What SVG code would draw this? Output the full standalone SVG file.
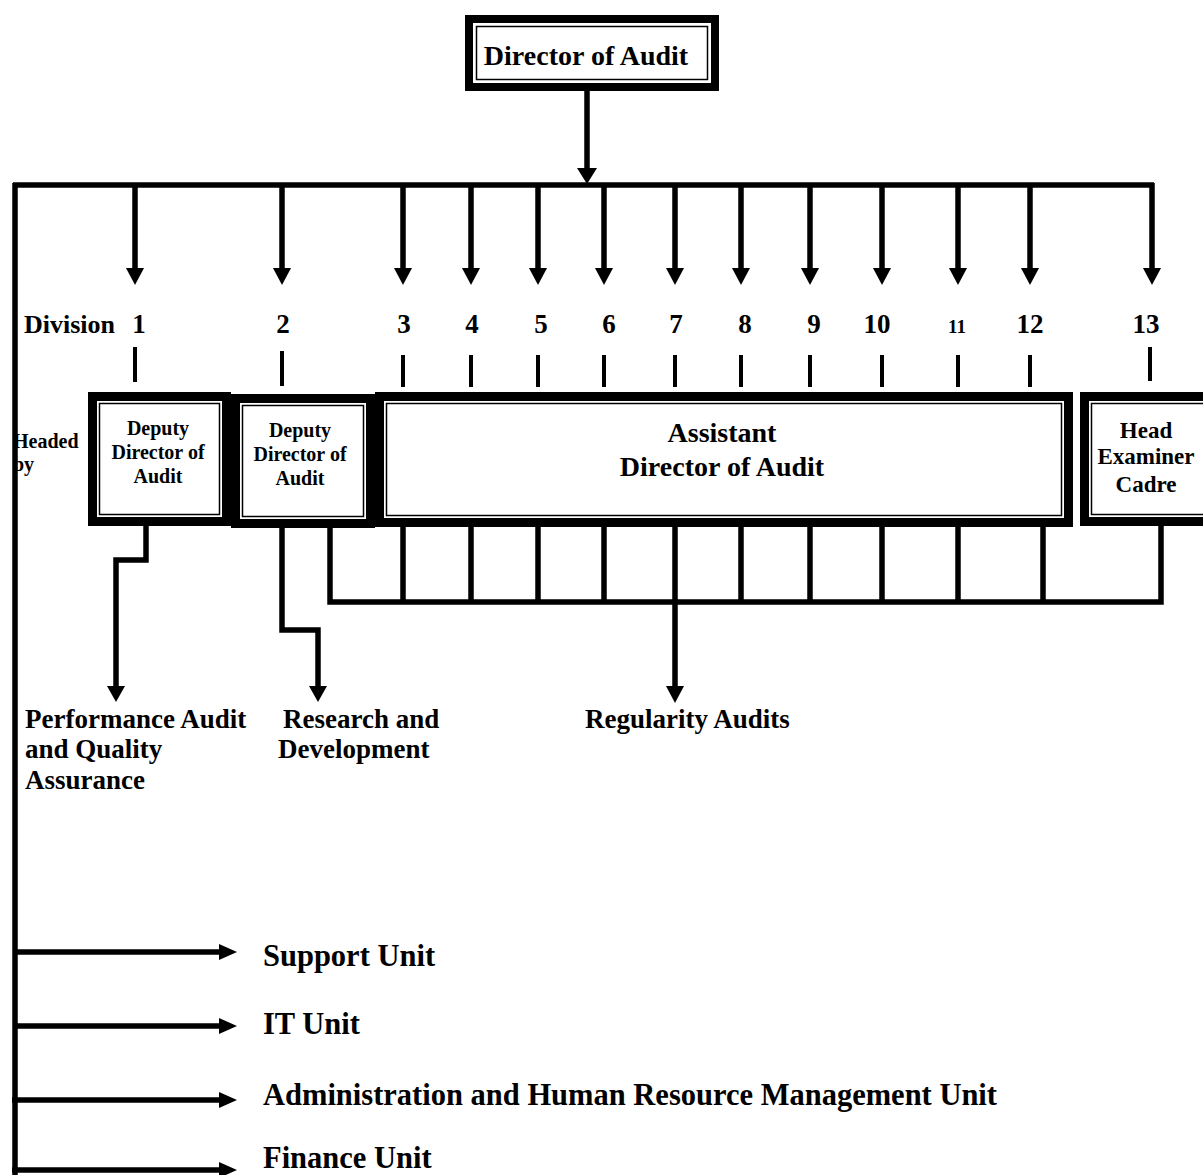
<svg xmlns="http://www.w3.org/2000/svg" width="1203" height="1175" viewBox="0 0 1203 1175">
<style>
text{font-family:"Liberation Serif","Times New Roman",serif;font-weight:bold;fill:#000}
.c{text-anchor:middle}
.ln{stroke:#000;stroke-width:5.5;fill:none;stroke-linecap:butt}
.tk{stroke:#000;stroke-width:4;fill:none}
.outer{fill:#000}
.inner{fill:#fff}
.thin{fill:none;stroke:#000;stroke-width:1.5}
.ah{fill:#000}
</style>
<rect width="1203" height="1175" fill="#fff"/>

<g id="director">
<rect class="outer" x="465" y="15" width="254" height="76"/>
<rect class="inner" x="473" y="23" width="238" height="60"/>
<rect class="thin" x="476.5" y="26.5" width="231" height="53"/>
<text class="c" x="586" y="65" font-size="28">Director of Audit</text>
</g>

<g id="labels">
<text x="24" y="333" font-size="26">Division</text>
<text class="c" x="139" y="333" font-size="27">1</text>
<text class="c" x="283" y="333" font-size="27">2</text>
<text class="c" x="404" y="333" font-size="27">3</text>
<text class="c" x="472" y="333" font-size="27">4</text>
<text class="c" x="541" y="333" font-size="27">5</text>
<text class="c" x="609" y="333" font-size="27">6</text>
<text class="c" x="676" y="333" font-size="27">7</text>
<text class="c" x="745" y="333" font-size="27">8</text>
<text class="c" x="814" y="333" font-size="27">9</text>
<text class="c" x="877" y="333" font-size="27">10</text>
<text class="c" x="957" y="333" font-size="19">11</text>
<text class="c" x="1030" y="333" font-size="27">12</text>
<text class="c" x="1146" y="333" font-size="27">13</text>
<text x="13" y="448" font-size="20">Headed</text>
<text x="13" y="471" font-size="20">by</text>
</g>

<g id="deputy1">
<rect class="outer" x="88" y="392" width="143" height="134"/>
<rect class="inner" x="97" y="401" width="125" height="116"/>
<rect class="thin" x="99.5" y="403.5" width="120" height="111"/>
<text class="c" x="158" y="435" font-size="20">Deputy</text>
<text class="c" x="158" y="459" font-size="20">Director of</text>
<text class="c" x="158" y="483" font-size="20">Audit</text>
</g>

<g id="deputy2">
<rect class="outer" x="231" y="394" width="144" height="134"/>
<rect class="inner" x="240" y="403" width="126" height="116"/>
<rect class="thin" x="242.5" y="405.5" width="121" height="111"/>
<text class="c" x="300" y="437" font-size="20">Deputy</text>
<text class="c" x="300" y="461" font-size="20">Director of</text>
<text class="c" x="300" y="485" font-size="20">Audit</text>
</g>

<g id="assistant">
<rect class="outer" x="375" y="392" width="698" height="135"/>
<rect class="inner" x="384" y="401" width="680" height="117"/>
<rect class="thin" x="386.5" y="403.5" width="675" height="112"/>
<text class="c" x="722" y="442" font-size="28">Assistant</text>
<text class="c" x="722" y="476" font-size="28">Director of Audit</text>
</g>

<g id="head-examiner">
<rect class="outer" x="1080" y="392" width="135" height="134"/>
<rect class="inner" x="1089" y="401" width="120" height="116"/>
<rect class="thin" x="1091.5" y="403.5" width="120" height="111"/>
<text class="c" x="1146" y="438" font-size="23">Head</text>
<text class="c" x="1146" y="464" font-size="23">Examiner</text>
<text class="c" x="1146" y="492" font-size="23">Cadre</text>
</g>

<g id="outputs">
<text x="25" y="728" font-size="27">Performance Audit</text>
<text x="25" y="758" font-size="27">and Quality</text>
<text x="25" y="789" font-size="27">Assurance</text>
<text x="283" y="728" font-size="27">Research and</text>
<text x="278" y="758" font-size="27">Development</text>
<text x="585" y="728" font-size="27">Regularity Audits</text>
<text x="263" y="966" font-size="30.5">Support Unit</text>
<text x="263" y="1034" font-size="30.5">IT Unit</text>
<text x="263" y="1105" font-size="30.5">Administration and Human Resource Management Unit</text>
<text x="263" y="1168" font-size="30.5">Finance Unit</text>
</g>

<g id="connectors">
<line class="ln" x1="587" y1="91" x2="587" y2="170"/>
<polygon class="ah" points="577,168 597,168 587,184"/>
<line class="ln" x1="13" y1="185" x2="1154" y2="185"/>
<line class="ln" x1="15" y1="183" x2="15" y2="1175"/>
<path class="ln" d="M135,185V270 M282,185V270 M403,185V270 M471,185V270 M538,185V270 M604,185V270 M675,185V270 M741,185V270 M810,185V270 M882,185V270 M958,185V270 M1030,185V270 M1152,183V270"/>
<g class="ah">
<polygon points="126,268 144,268 135,285"/>
<polygon points="273,268 291,268 282,285"/>
<polygon points="394,268 412,268 403,285"/>
<polygon points="462,268 480,268 471,285"/>
<polygon points="529,268 547,268 538,285"/>
<polygon points="595,268 613,268 604,285"/>
<polygon points="666,268 684,268 675,285"/>
<polygon points="732,268 750,268 741,285"/>
<polygon points="801,268 819,268 810,285"/>
<polygon points="873,268 891,268 882,285"/>
<polygon points="949,268 967,268 958,285"/>
<polygon points="1021,268 1039,268 1030,285"/>
<polygon points="1143,268 1161,268 1152,285"/>
</g>
<path class="tk" d="M135,347V382 M282,351V386 M403,355V387 M471,355V387 M538,355V387 M604,355V387 M675,355V387 M741,355V387 M810,355V387 M882,355V387 M958,355V387 M1030,355V387 M1150,347V381"/>
<path class="ln" d="M146,526V560H116V688"/>
<polygon class="ah" points="107,686 125,686 116,702"/>
<path class="ln" d="M282,528V630H318V688"/>
<polygon class="ah" points="309,686 327,686 318,702"/>
<path class="ln" d="M330,528V602H1161V526"/>
<path class="ln" d="M403,527V602 M471,527V602 M538,527V602 M604,527V602 M675,527V688 M741,527V602 M810,527V602 M882,527V602 M958,527V602 M1043,527V602"/>
<polygon class="ah" points="666,686 684,686 675,703"/>
<line class="ln" x1="15" y1="952" x2="222" y2="952"/>
<polygon class="ah" points="219,944 237,952 219,960"/>
<line class="ln" x1="15" y1="1026" x2="222" y2="1026"/>
<polygon class="ah" points="219,1018 237,1026 219,1034"/>
<line class="ln" x1="12" y1="1100" x2="222" y2="1100"/>
<polygon class="ah" points="219,1092 237,1100 219,1108"/>
<line class="ln" x1="12" y1="1170" x2="222" y2="1170"/>
<polygon class="ah" points="219,1162 237,1170 219,1178"/>
</g>
</svg>
